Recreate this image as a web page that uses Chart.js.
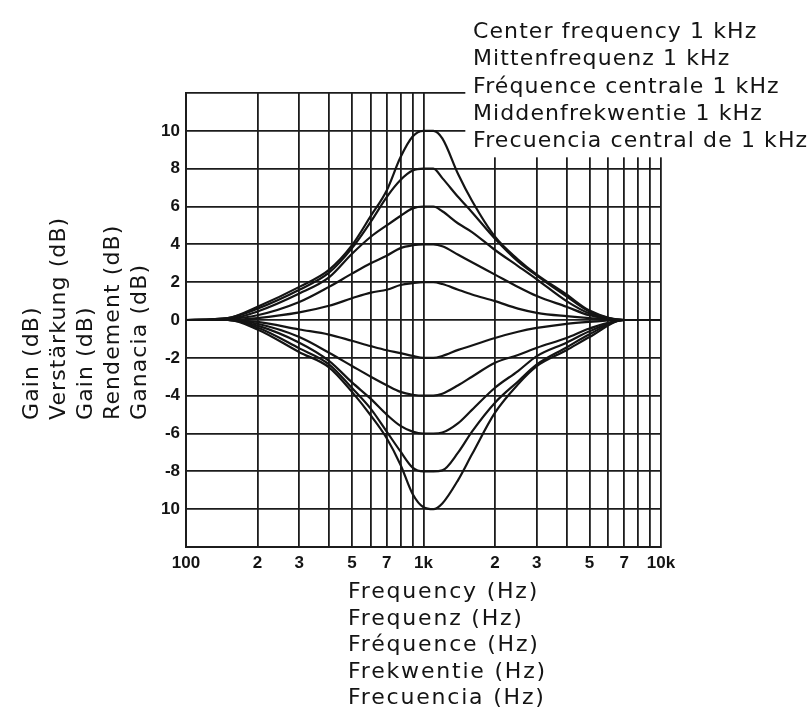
<!DOCTYPE html>
<html>
<head>
<meta charset="utf-8">
<script src="https://cdn.jsdelivr.net/npm/chart.js@4/dist/chart.umd.min.js"></script>
<style>
  html, body { margin: 0; padding: 0; background: #fff; }
  #wrap { width: 810px; height: 714px; }
</style>
</head>
<body>
<div id="wrap"><canvas id="eq-chart" width="810" height="714"></canvas></div>
<script>
// ── data ──────────────────────────────────────────────────────────────────
const FREQS = [100, 150, 200, 300, 400, 500, 600, 700, 800, 900, 1000, 1100, 1200, 1400, 1600, 2000, 2500, 3000, 4000, 5000, 7000, 10000];

const GAIN_P10 = [0, 0.1, 0.7, 1.75, 2.65, 3.95, 5.5, 6.85, 8.6, 9.7, 10, 10, 9.6, 7.7, 6.3, 4.4, 3.2, 2.4, 1.35, 0.5, 0, 0];
const GAIN_P8  = [0, 0.1, 0.6, 1.6, 2.5, 3.8, 5.2, 6.5, 7.4, 7.9, 8, 8, 7.5, 6.5, 5.7, 4.3, 3.1, 2.35, 1.25, 0.45, 0, 0];
const GAIN_P6  = [0, 0.05, 0.45, 1.4, 2.25, 3.5, 4.4, 5.0, 5.5, 5.9, 6, 6, 5.75, 5.1, 4.65, 3.7, 2.85, 2.15, 1.0, 0.35, 0, 0];
const GAIN_P4  = [0, 0.05, 0.25, 0.95, 1.75, 2.45, 3.0, 3.4, 3.8, 3.95, 4, 4, 3.9, 3.45, 3.05, 2.4, 1.75, 1.27, 0.7, 0.25, 0, 0];
const GAIN_P2  = [0, 0, 0.1, 0.4, 0.75, 1.15, 1.45, 1.6, 1.85, 1.95, 2, 2, 1.9, 1.6, 1.35, 1.0, 0.6, 0.38, 0.2, 0.1, 0, 0];
const GAIN_M2  = [0, 0, -0.1, -0.5, -0.77, -1.1, -1.38, -1.6, -1.75, -1.9, -2, -2, -1.9, -1.58, -1.35, -0.95, -0.62, -0.42, -0.2, -0.1, 0, 0];
const GAIN_M4  = [0, 0, -0.2, -0.9, -1.73, -2.43, -3.0, -3.45, -3.8, -3.95, -4, -4, -3.9, -3.45, -3.0, -2.26, -1.85, -1.47, -0.95, -0.45, 0, 0];
const GAIN_M6  = [0, 0, -0.3, -1.2, -2.16, -3.3, -4.17, -5.0, -5.6, -5.9, -6, -6, -5.95, -5.45, -4.75, -3.58, -2.7, -1.91, -1.2, -0.6, 0, 0];
const GAIN_M8  = [0, 0, -0.4, -1.5, -2.34, -3.6, -4.7, -5.9, -6.95, -7.8, -8, -8, -7.95, -7.0, -5.9, -4.37, -3.25, -2.35, -1.45, -0.75, 0, 0];
const GAIN_M10 = [0, 0, -0.5, -1.7, -2.5, -3.8, -5.05, -6.25, -7.65, -9.2, -9.9, -10, -9.7, -8.45, -7.1, -4.9, -3.4, -2.44, -1.6, -0.9, 0, 0];

const CURVES = [GAIN_P10, GAIN_P8, GAIN_P6, GAIN_P4, GAIN_P2, GAIN_M2, GAIN_M4, GAIN_M6, GAIN_M8, GAIN_M10];

const X_TICKS     = [100, 200, 300, 400, 500, 600, 700, 800, 900, 1000, 2000, 3000, 4000, 5000, 6000, 7000, 8000, 9000, 10000];
const X_TICK_TEXT = ['100', '2', '3', '', '5', '', '7', '', '', '1k', '2', '3', '', '5', '', '7', '', '', '10k'];
const Y_TICKS     = [-12, -10, -8, -6, -4, -2, 0, 2, 4, 6, 8, 10, 12];
const Y_TICK_TEXT = ['', '10', '-8', '-6', '-4', '-2', '0', '2', '4', '6', '8', '10', ''];

const LEGEND_LINES = [
  'Center frequency 1 kHz',
  'Mittenfrequenz 1 kHz',
  'Fréquence centrale 1 kHz',
  'Middenfrekwentie 1 kHz',
  'Frecuencia central de 1 kHz'
];
const X_TITLE_LINES = ['Frequency (Hz)', 'Frequenz (Hz)', 'Fréquence (Hz)', 'Frekwentie (Hz)', 'Frecuencia (Hz)'];
const Y_TITLE_LINES = ['Gain (dB)', 'Verstärkung (dB)', 'Gain (dB)', 'Rendement (dB)', 'Ganacia (dB)'];

// ── style ─────────────────────────────────────────────────────────────────
const INK       = '#141414';
const GRID      = '#1c1c1c';
const TEXT_FONT = '"DejaVu Sans", "Liberation Sans", sans-serif';
const TICK_FONT = '"Liberation Sans Narrow", "Liberation Sans", sans-serif';

// ── titles + cut-out behind the legend text ──────────────────────────────
const titlesPlugin = {
  id: 'titles',
  beforeDatasetsDraw(chart) {
    const { ctx, scales: { x, y } } = chart;
    const left = x.getPixelForValue(1500);
    const bottom = y.getPixelForValue(8.6);
    ctx.save();
    ctx.fillStyle = '#fff';
    ctx.fillRect(left, 0, chart.width - left, bottom);
    ctx.restore();
  },
  afterDraw(chart) {
    const ctx = chart.ctx;
    ctx.save();
    ctx.fillStyle = INK;
    ctx.font = `22px ${TEXT_FONT}`;
    ctx.textAlign = 'left';
    ctx.textBaseline = 'alphabetic';

    ctx.letterSpacing = '1.1px';
    LEGEND_LINES.forEach((t, i) => ctx.fillText(t, 473, 38 + i * 27.3));

    ctx.letterSpacing = '1.8px';
    X_TITLE_LINES.forEach((t, i) => ctx.fillText(t, 348, 598 + i * 26.6));

    ctx.letterSpacing = '1.1px';
    Y_TITLE_LINES.forEach((t, i) => {
      ctx.save();
      ctx.translate(38 + i * 27, 420);
      ctx.rotate(-Math.PI / 2);
      ctx.fillText(t, 0, 0);
      ctx.restore();
    });
    ctx.restore();
  }
};

// ── chart ─────────────────────────────────────────────────────────────────
new Chart(document.getElementById('eq-chart'), {
  type: 'line',
  data: {
    datasets: CURVES.map((g, i) => ({
      label: 'curve ' + i,
      data: FREQS.map((f, k) => ({ x: f, y: g[k] })),
      borderColor: INK,
      borderWidth: 2.2,
      pointRadius: 0,
      fill: false,
      cubicInterpolationMode: 'monotone'
    }))
  },
  options: {
    responsive: false,
    animation: false,
    layout: { padding: { left: 0, top: 93, right: 149, bottom: 137 } },
    plugins: { legend: { display: false }, tooltip: { enabled: false } },
    scales: {
      x: {
        type: 'logarithmic',
        min: 100, max: 10000,
        afterBuildTicks: s => { s.ticks = X_TICKS.map(v => ({ value: v })); },
        afterFit: s => { s.height = 30; },
        grid: { color: GRID, lineWidth: 1.8, drawTicks: false },
        border: { color: GRID, width: 2 },
        ticks: {
          autoSkip: false, maxRotation: 0, padding: 6,
          color: INK, font: { family: TICK_FONT, size: 17, weight: 'bold' },
          callback: (v, i) => X_TICK_TEXT[i]
        }
      },
      y: {
        type: 'linear',
        min: -12, max: 12,
        afterBuildTicks: s => { s.ticks = Y_TICKS.map(v => ({ value: v })); },
        afterFit: s => { s.width = 186; },
        grid: { color: GRID, lineWidth: 1.8, drawTicks: false },
        border: { color: GRID, width: 2 },
        ticks: {
          autoSkip: false, padding: 6,
          color: INK, font: { family: TICK_FONT, size: 17, weight: 'bold' },
          callback: (v, i) => Y_TICK_TEXT[i]
        }
      }
    }
  },
  plugins: [titlesPlugin]
});
</script>
</body>
</html>
